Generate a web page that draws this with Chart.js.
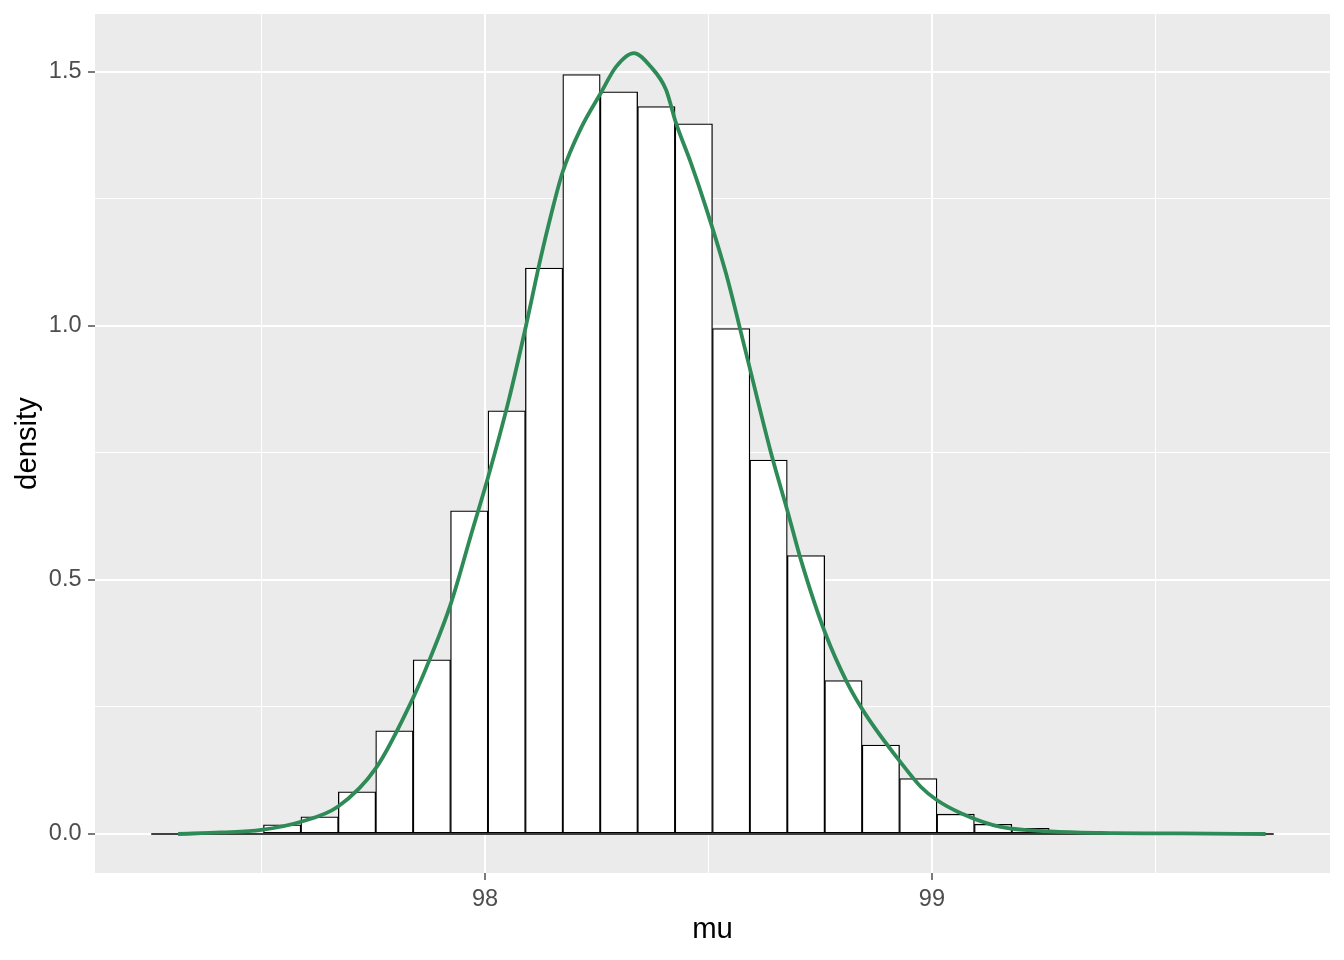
<!DOCTYPE html>
<html>
<head>
<meta charset="utf-8">
<script src="https://cdn.jsdelivr.net/npm/chart.js@4.4.1/dist/chart.umd.min.js"></script>
<style>
  html, body { margin: 0; padding: 0; background: #fff; }
  canvas { display: block; }
</style>
</head>
<body>
<canvas id="histChart" width="1344" height="960"></canvas>
<script>
// histogram of mu, 30 bins (density scale)
var binMids = [97.2947, 97.3784, 97.4622, 97.5459, 97.6297, 97.7134, 97.7971, 97.8809, 97.9646, 98.0484,
               98.1321, 98.2158, 98.2996, 98.3833, 98.4671, 98.5508, 98.6345, 98.7183, 98.8020, 98.8858,
               98.9695, 99.0532, 99.1370, 99.2207, 99.3045, 99.3882, 99.4719, 99.5557, 99.6394, 99.7232];
var binDensity = [0, 0, 0, 0.018, 0.034, 0.083, 0.203, 0.343, 0.636, 0.833,
                  1.114, 1.495, 1.461, 1.432, 1.398, 0.995, 0.736, 0.548, 0.302, 0.175,
                  0.109, 0.039, 0.019, 0.011, 0, 0, 0, 0, 0, 0];

// kernel density curve
var densX = [97.313, 97.409, 97.499, 97.588, 97.671, 97.756, 97.839, 97.879, 97.924, 97.969,
             98.007, 98.053, 98.089, 98.125, 98.148, 98.174, 98.215, 98.260, 98.293, 98.333,
             98.371, 98.405, 98.427, 98.461, 98.494, 98.539, 98.584, 98.640, 98.678, 98.707,
             98.761, 98.812, 98.852, 98.931, 98.975, 99.011, 99.065, 99.154, 99.266, 99.378,
             99.557, 99.747];
var densY = [0.000, 0.003, 0.008, 0.024, 0.054, 0.130, 0.268, 0.350, 0.455, 0.590,
             0.703, 0.854, 0.990, 1.136, 1.220, 1.304, 1.390, 1.460, 1.510, 1.537,
             1.510, 1.465, 1.400, 1.320, 1.234, 1.104, 0.947, 0.750, 0.632, 0.539,
             0.396, 0.295, 0.235, 0.140, 0.093, 0.067, 0.041, 0.014, 0.005, 0.002,
             0.001, 0.000];

var xMajor = [98, 99];
var xMinor = [97.5, 98.5, 99.5];
var xLabels = ['98', '99'];
var yMajor = [0, 0.5, 1, 1.5];
var yMinor = [0.25, 0.75, 1.25];
var yLabels = ['0.0', '0.5', '1.0', '1.5'];

var FONT = '"Liberation Sans", Arial, sans-serif';
var binWidth = binMids[1] - binMids[0];

var panelBg = {
  id: 'panelBg',
  beforeDraw: function(chart) {
    var a = chart.chartArea, ctx = chart.ctx;
    ctx.save();
    ctx.fillStyle = '#EBEBEB';
    ctx.fillRect(a.left, a.top, a.right - a.left, a.bottom - a.top);
    ctx.restore();
  }
};

function isMajor(list, c) {
  return c.tick && list.indexOf(c.tick.value) >= 0;
}

var histData = binMids.map(function(x, i) { return {x: x, y: binDensity[i]}; });
var densData = densX.map(function(x, i) { return {x: x, y: densY[i]}; });
var baseData = [
  {x: binMids[0] - binWidth / 2, y: 0},
  {x: binMids[binMids.length - 1] + binWidth / 2, y: 0}
];

var ctx = document.getElementById('histChart').getContext('2d');
var chart = new Chart(ctx, {
  type: 'bar',
  plugins: [panelBg],
  data: {
    datasets: [{
      type: 'line',
      data: densData,
      borderColor: '#2E8B57',
      borderWidth: 3.8,
      pointRadius: 0,
      fill: false,
      cubicInterpolationMode: 'monotone',
      order: 0
    }, {
      type: 'line',
      data: baseData,
      borderColor: '#000',
      borderWidth: 1.3,
      pointRadius: 0,
      fill: false,
      order: 1
    }, {
      type: 'bar',
      data: histData,
      backgroundColor: '#FFFFFF',
      borderColor: '#000000',
      borderWidth: 1.3,
      borderSkipped: false,
      barPercentage: 1,
      categoryPercentage: 1,
      order: 2
    }]
  },
  options: {
    responsive: false,
    animation: false,
    devicePixelRatio: 1,
    layout: { padding: { top: 14, right: 14, bottom: 0, left: 0 } },
    plugins: { legend: { display: false }, tooltip: { enabled: false } },
    scales: {
      x: {
        type: 'linear',
        min: 97.127,
        max: 99.891,
        offset: false,
        afterBuildTicks: function(s) {
          s.ticks = xMinor.concat(xMajor).sort(function(a, b) { return a - b; })
            .map(function(v) { return {value: v}; });
        },
        afterFit: function(s) {
          s.height = 87;
          s.paddingLeft = 0;
          s.paddingRight = 0;
        },
        border: { display: false },
        grid: {
          offset: false,
          color: '#FFFFFF',
          lineWidth: function(c) { return isMajor(xMajor, c) ? 2 : 1; },
          tickLength: 7,
          tickWidth: 1.3,
          tickColor: function(c) { return isMajor(xMajor, c) ? '#333333' : 'rgba(0,0,0,0)'; }
        },
        ticks: {
          autoSkip: false,
          maxRotation: 0,
          padding: 5,
          color: '#4D4D4D',
          font: { family: FONT, size: 23.5 },
          callback: function(v) {
            var k = xMajor.indexOf(v);
            return k < 0 ? '' : xLabels[k];
          }
        },
        title: {
          display: true,
          text: 'mu',
          color: '#000000',
          font: { family: FONT, size: 29.3 },
          padding: { top: 0, bottom: 12.4 }
        }
      },
      y: {
        type: 'linear',
        min: -0.0768,
        max: 1.614,
        afterBuildTicks: function(s) {
          s.ticks = yMinor.concat(yMajor).sort(function(a, b) { return a - b; })
            .map(function(v) { return {value: v}; });
        },
        afterFit: function(s) {
          s.width = 95;
          s.paddingTop = 0;
          s.paddingBottom = 0;
        },
        border: { display: false },
        grid: {
          color: '#FFFFFF',
          lineWidth: function(c) { return isMajor(yMajor, c) ? 2 : 1; },
          tickLength: 7,
          tickWidth: 1.3,
          tickColor: function(c) { return isMajor(yMajor, c) ? '#333333' : 'rgba(0,0,0,0)'; }
        },
        ticks: {
          autoSkip: false,
          padding: 6.5,
          color: '#4D4D4D',
          font: { family: FONT, size: 23.5 },
          callback: function(v) {
            var k = yMajor.indexOf(v);
            return k < 0 ? '' : yLabels[k];
          }
        },
        title: {
          display: true,
          text: 'density',
          color: '#000000',
          font: { family: FONT, size: 29.3 },
          padding: { top: 10, bottom: 0 }
        }
      }
    }
  }
});
</script>
</body>
</html>
